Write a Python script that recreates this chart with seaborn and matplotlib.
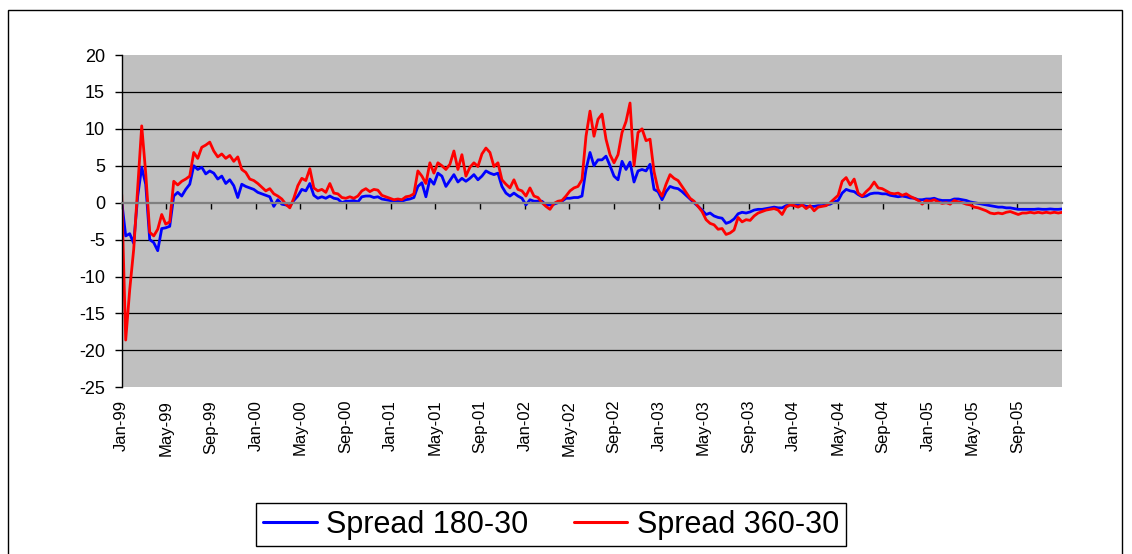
import numpy as np
import pandas as pd
import matplotlib
matplotlib.use("Agg")
import matplotlib.pyplot as plt
import matplotlib.dates as mdates
import seaborn as sns
from matplotlib.lines import Line2D
from matplotlib.patches import Rectangle

# ---------------- data ----------------
spread_360_30 = [
    1.1, -18.6, -11.8, -6.3, 2.0, 10.4, 4.0, -4.0, -4.5, -3.6,
    -1.6, -2.9, -2.6, 2.9, 2.4, 2.9, 3.2, 3.6, 6.8, 6.0,
    7.5, 7.8, 8.2, 7.0, 6.2, 6.6, 6.0, 6.4, 5.6, 6.2,
    4.5, 4.1, 3.2, 3.0, 2.6, 2.1, 1.6, 1.9, 1.2, 0.9,
    0.5, -0.2, -0.7, 0.6, 2.3, 3.3, 3.0, 4.6, 2.0, 1.6,
    1.8, 1.4, 2.6, 1.3, 1.2, 0.7, 0.6, 0.8, 0.6, 0.9,
    1.6, 1.9, 1.5, 1.8, 1.7, 1.0, 0.8, 0.6, 0.4, 0.5,
    0.4, 0.8, 0.9, 1.2, 4.3, 3.6, 2.6, 5.4, 4.0, 5.4,
    5.0, 4.5, 5.2, 7.0, 4.5, 6.5, 3.6, 4.8, 5.4, 4.9,
    6.6, 7.4, 6.8, 4.9, 5.4, 3.1, 2.5, 2.0, 3.1, 1.8,
    1.6, 0.9, 2.0, 0.9, 0.7, 0.0, -0.5, -0.9, -0.1, 0.2,
    0.3, 0.9, 1.6, 2.0, 2.2, 3.1, 9.0, 12.4, 9.0, 11.3,
    12.0, 8.6, 6.5, 5.4, 6.5, 9.5, 11.0, 13.5, 5.0, 9.5,
    10.0, 8.4, 8.6, 4.2, 1.8, 0.9, 2.5, 3.8, 3.3, 3.0,
    2.2, 1.4, 0.6, 0.2, -0.5, -1.2, -2.3, -2.8, -3.0, -3.6,
    -3.5, -4.3, -4.1, -3.7, -2.0, -2.6, -2.3, -2.4, -1.8, -1.4,
    -1.2, -1.0, -0.9, -0.8, -1.0, -1.6, -0.6, -0.3, -0.4, -0.6,
    -0.3, -0.8, -0.4, -1.1, -0.6, -0.5, -0.4, 0.0, 0.5, 1.0,
    2.9, 3.4, 2.4, 3.2, 1.3, 0.9, 1.5, 2.0, 2.8, 2.0,
    1.9, 1.6, 1.3, 1.2, 1.3, 1.0, 1.2, 0.85, 0.6, 0.3,
    -0.2, 0.3, 0.2, 0.4, 0.1, -0.1, 0.0, -0.2, 0.3, 0.1,
    0.0, -0.2, -0.3, -0.6, -0.7, -0.9, -1.1, -1.4, -1.5, -1.4,
    -1.5, -1.3, -1.2, -1.4, -1.6, -1.4, -1.4, -1.3, -1.4, -1.3,
    -1.4, -1.3, -1.4, -1.3, -1.4, -1.3,
]

spread_180_30 = [
    0.2, -4.5, -4.2, -5.5, 0.9, 4.8, 2.5, -5.0, -5.4, -6.5,
    -3.5, -3.4, -3.2, 0.9, 1.4, 0.9, 1.8, 2.5, 5.0, 4.5,
    4.8, 3.9, 4.3, 4.0, 3.2, 3.6, 2.6, 3.1, 2.3, 0.7,
    2.5, 2.2, 2.0, 1.8, 1.4, 1.2, 1.0, 0.8, -0.5, 0.4,
    -0.2, -0.3, -0.5, 0.3, 0.9, 1.8, 1.6, 2.6, 1.0, 0.6,
    0.8, 0.6, 0.9, 0.6, 0.5, 0.0, 0.2, 0.2, 0.3, 0.1,
    0.8, 0.9, 0.9, 0.7, 0.8, 0.5, 0.4, 0.3, 0.1, 0.2,
    0.2, 0.4, 0.5, 0.7, 2.2, 2.7, 0.8, 3.2, 2.5, 4.0,
    3.6, 2.2, 3.0, 3.8, 2.8, 3.3, 2.9, 3.3, 3.8, 3.1,
    3.6, 4.3, 4.0, 3.8, 4.0, 2.2, 1.3, 0.9, 1.3, 0.9,
    0.6, -0.3, 0.4, 0.2, 0.2, 0.2, -0.3, -0.3, -0.2, 0.0,
    0.2, 0.6, 0.6, 0.7, 0.7, 0.9, 4.5, 6.8, 5.0, 5.8,
    5.8, 6.3, 5.0, 3.6, 3.1, 5.6, 4.5, 5.5, 2.8, 4.3,
    4.5, 4.3, 5.2, 1.8, 1.5, 0.4, 1.5, 2.2, 2.0, 1.9,
    1.5, 1.0, 0.5, 0.0, -0.5, -1.0, -1.6, -1.4, -1.8, -2.0,
    -2.1, -2.8, -2.6, -2.2, -1.5, -1.3, -1.4, -1.25, -1.0, -0.9,
    -0.9, -0.8, -0.7, -0.6, -0.7, -0.7, -0.4, -0.3, -0.4, -0.3,
    -0.3, -0.5, -0.5, -0.5, -0.4, -0.4, -0.3, -0.2, 0.1, 0.3,
    1.3, 1.8, 1.6, 1.5, 1.1, 0.8, 0.9, 1.2, 1.3, 1.3,
    1.2, 1.2, 1.0, 0.9, 0.8, 0.9, 0.8, 0.65, 0.6, 0.4,
    0.4, 0.5, 0.5, 0.6, 0.4, 0.3, 0.3, 0.3, 0.5, 0.5,
    0.4, 0.3, 0.1, 0.0, -0.1, -0.2, -0.3, -0.4, -0.5, -0.6,
    -0.6, -0.7, -0.7, -0.8, -0.9, -0.9, -0.9, -0.9, -0.9, -0.85,
    -0.9, -0.9, -0.85, -0.9, -0.9, -0.85,
]

series_names = ["Spread 180-30", "Spread 360-30"]
series_colors = ["#0000FF", "#FF0000"]
start_date = "1999-01-01"
end_date = "2006-01-01"
tick_dates = pd.date_range("1999-01-01", "2005-09-01", freq="4MS")
tick_labels = [d.strftime("%b-%y") for d in tick_dates]
y_ticks = list(range(-25, 21, 5))

# ---------------- build table ----------------
dates = pd.date_range(start_date, end_date, periods=len(spread_360_30))
xnum = mdates.date2num(dates)
df = pd.concat([
    pd.DataFrame({"x": xnum, "value": spread_180_30, "series": series_names[0]}),
    pd.DataFrame({"x": xnum, "value": spread_360_30, "series": series_names[1]}),
], ignore_index=True)

# ---------------- plot ----------------
sns.set_theme(style="white")
plt.rcParams["font.family"] = ["Liberation Sans", "DejaVu Sans"]
plt.rcParams["axes.unicode_minus"] = False
plt.rcParams["text.color"] = "black"

fig = plt.figure(figsize=(11.32, 5.54), dpi=100)
ax = fig.add_axes([121.7 / 1132, 1 - 387.3 / 554, (1062.3 - 121.7) / 1132, (387.3 - 55) / 554])
ax.set_facecolor("#C0C0C0")

sns.lineplot(data=df, x="x", y="value", hue="series", hue_order=series_names,
             palette=dict(zip(series_names, series_colors)), linewidth=2.0,
             estimator=None, legend=False, ax=ax)

ax.set_xlim(mdates.date2num(pd.Timestamp(start_date)), mdates.date2num(pd.Timestamp(end_date)))
ax.set_ylim(-25, 20)
ax.set_yticks(y_ticks)
ax.set_yticklabels([str(v) for v in y_ticks])
ax.set_xlabel("")
ax.set_ylabel("")

ax.set_axisbelow(True)
ax.grid(axis="y", color="black", linewidth=0.9)
ax.grid(axis="x", visible=False)
for tick_val, gl in zip(y_ticks, ax.get_ygridlines()):
    if tick_val in (-25, 0, 20):
        gl.set_visible(False)

for s in ("top", "right"):
    ax.spines[s].set_visible(False)
ax.spines["left"].set_color("black")
ax.spines["left"].set_linewidth(1.0)
ax.spines["bottom"].set_position(("data", 0))
ax.spines["bottom"].set_color("#808080")
ax.spines["bottom"].set_linewidth(1.6)

ax.tick_params(axis="y", direction="out", length=5, width=1, color="black",
               pad=7, labelsize=13, left=True, labelcolor="black")
tick_nums = mdates.date2num(tick_dates)
ax.set_xticks(tick_nums)
ax.tick_params(axis="x", direction="out", length=4.5, width=1, color="black",
               bottom=True, labelbottom=False)

sec = ax.secondary_xaxis("bottom")
sec.set_xticks(tick_nums)
sec.set_xticklabels(tick_labels)
sec.tick_params(length=0, pad=9, labelsize=12, labelrotation=90, labelcolor="black")
sec.spines["bottom"].set_visible(False)

handles = [Line2D([0], [0], color=c, lw=2.2) for c in series_colors]
leg = fig.legend(handles, series_names, loc="center",
                 bbox_to_anchor=(551 / 1132, 1 - 524.5 / 554), ncol=2,
                 fontsize=22, frameon=True, fancybox=False, edgecolor="black",
                 framealpha=1, handlelength=1.75, handletextpad=0.3,
                 columnspacing=1.5, borderpad=0.22, borderaxespad=0,
                 labelcolor="black")
leg.get_frame().set_linewidth(1.0)

fig.add_artist(Rectangle((7.5 / 1132, -0.05), (1122 - 7.5) / 1132, 0.982 + 0.05,
                         transform=fig.transFigure, fill=False,
                         edgecolor="black", linewidth=1.0))

fig.savefig("out.png", dpi=100, facecolor="white")
